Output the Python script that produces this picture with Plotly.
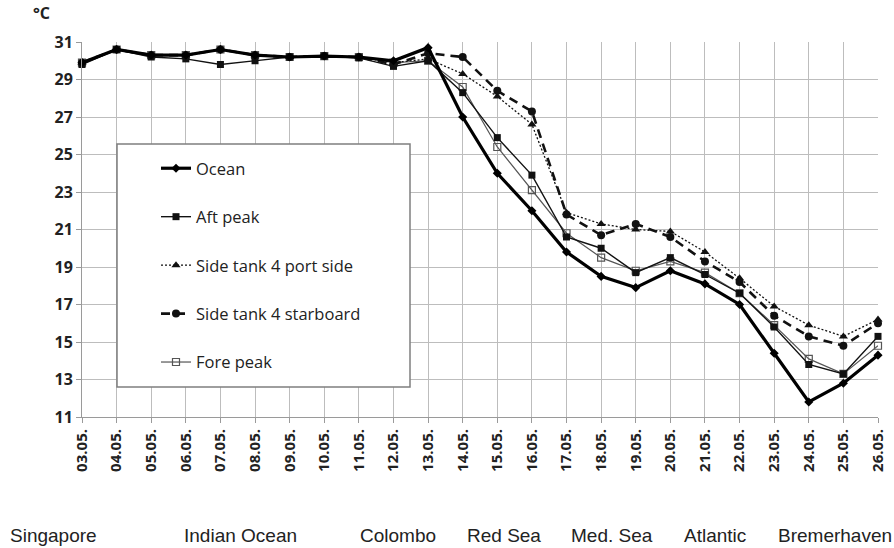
import plotly.graph_objects as go

dates = ["03.05.", "04.05.", "05.05.", "06.05.", "07.05.", "08.05.", "09.05.", "10.05.",
         "11.05.", "12.05.", "13.05.", "14.05.", "15.05.", "16.05.", "17.05.", "18.05.",
         "19.05.", "20.05.", "21.05.", "22.05.", "23.05.", "24.05.", "25.05.", "26.05."]

ocean = [29.9, 30.6, 30.3, 30.3, 30.6, 30.3, 30.2, 30.25, 30.2, 30.0, 30.7, 27.0,
         24.0, 22.0, 19.8, 18.5, 17.9, 18.8, 18.1, 17.0, 14.4, 11.8, 12.8, 14.3]
aft_peak = [29.8, 30.6, 30.2, 30.1, 29.8, 30.0, 30.2, 30.25, 30.15, 29.7, 30.0, 28.3,
            25.9, 23.9, 20.6, 20.0, 18.7, 19.5, 18.6, 17.6, 15.8, 13.8, 13.3, 15.3]
port_side = [29.9, 30.6, 30.3, 30.3, 30.6, 30.3, 30.2, 30.25, 30.2, 29.9, 30.1, 29.3,
             28.1, 26.6, 21.9, 21.3, 21.0, 20.9, 19.8, 18.4, 16.9, 15.9, 15.3, 16.2]
starboard = [29.9, 30.6, 30.3, 30.3, 30.6, 30.3, 30.2, 30.25, 30.2, 29.8, 30.4, 30.2,
             28.4, 27.3, 21.8, 20.7, 21.3, 20.6, 19.3, 18.2, 16.4, 15.3, 14.8, 16.0]
fore_peak = [29.9, 30.6, 30.3, 30.3, 30.6, 30.3, 30.2, 30.25, 30.2, 29.9, 30.0, 28.6,
             25.4, 23.1, 20.8, 19.5, 18.8, 19.3, 18.7, 17.6, 15.9, 14.1, 13.3, 14.8]

places = ["Singapore", "Indian Ocean", "Colombo", "Red Sea", "Med. Sea", "Atlantic", "Bremerhaven"]
place_px = [53, 240, 398, 504, 612, 715, 835]

y_ticks = [11, 13, 15, 17, 19, 21, 23, 25, 27, 29, 31]

W, H = 894, 548
L, R, T, B = 82, 16, 42, 131
pw, ph = W - L - R, H - T - B

font_main = "Open Sans, Liberation Sans, Arial, sans-serif"

fig = go.Figure()

def add(name, y, color, width, dash, symbol, msize, mcolor, rank, mline=0):
    fig.add_trace(go.Scatter(
        x=dates, y=y, name=name, mode="lines+markers",
        line=dict(color=color, width=width, dash=dash),
        marker=dict(symbol=symbol, size=msize, color=mcolor,
                    line=dict(color=color, width=mline)),
        cliponaxis=False, legendgroup=name, legendrank=rank))

add("Fore peak", fore_peak, "#555555", 1.2, "solid", "square-open", 7, "#555555", 5, 1.2)
add("Side tank 4 port side", port_side, "#111111", 1.3, "2px,2px", "triangle-up", 8, "#111111", 3)
add("Side tank 4 starboard", starboard, "#111111", 2.6, "9px,6px", "circle", 8, "#111111", 4)
add("Aft peak", aft_peak, "#111111", 1.4, "solid", "square", 7, "#111111", 2)
add("Ocean", ocean, "#000000", 3.2, "solid", "diamond", 7, "#000000", 1)

fig.update_layout(
    width=W, height=H,
    margin=dict(l=L, r=R, t=T, b=B, autoexpand=False),
    paper_bgcolor="white", plot_bgcolor="white",
    font=dict(family=font_main, color="#222222"),
    showlegend=True,
    legend=dict(
        x=(156 - L) / pw, y=1 - (151 - T) / ph, xanchor="left", yanchor="top",
        traceorder="grouped", tracegroupgap=24,
        bgcolor="rgba(0,0,0,0)", borderwidth=0,
        font=dict(family=font_main, size=16.5, color="#222222"),
        itemwidth=30,
    ),
    xaxis=dict(
        type="category", range=[0, len(dates) - 1], automargin=False,
        showgrid=True, gridcolor="#bdbdbd", gridwidth=1,
        showline=True, linecolor="#9a9a9a", linewidth=1,
        ticks="outside", ticklen=5, tickcolor="#9a9a9a",
        tickangle=-90, zeroline=False,
        tickfont=dict(family=font_main, size=15, color="#222222", weight="bold"),
    ),
    yaxis=dict(
        range=[11, 31], tickvals=y_ticks, ticktext=[str(v) for v in y_ticks],
        automargin=False,
        showgrid=True, gridcolor="#bdbdbd", gridwidth=1,
        showline=True, linecolor="#9a9a9a", linewidth=1,
        ticks="outside", ticklen=5, tickcolor="#9a9a9a", zeroline=False,
        tickfont=dict(family=font_main, size=16, color="#222222", weight="bold"),
    ),
)

# legend frame
fig.add_shape(type="rect", xref="paper", yref="paper",
              x0=(117 - L) / pw, x1=(410 - L) / pw,
              y0=1 - (387 - T) / ph, y1=1 - (144 - T) / ph,
              line=dict(color="#7f7f7f", width=1.5), fillcolor="white", layer="above")

# unit label
fig.add_annotation(text="°C", xref="paper", yref="paper",
                   x=(41 - L) / pw, y=1 - (13 - T) / ph, showarrow=False,
                   xanchor="center", yanchor="middle",
                   font=dict(family=font_main, size=16, color="#222222", weight="bold"))

# route labels
for name, px in zip(places, place_px):
    fig.add_annotation(text=name, xref="paper", yref="paper",
                       x=(px - L) / pw, y=1 - (535 - T) / ph, showarrow=False,
                       xanchor="center", yanchor="middle",
                       font=dict(family="Liberation Sans Narrow, Arial Narrow, Liberation Sans, sans-serif",
                                 size=19, color="#222222"))

fig.write_html("out.html", config={"displayModeBar": False},
               post_script="document.body.style.margin='0px';")
